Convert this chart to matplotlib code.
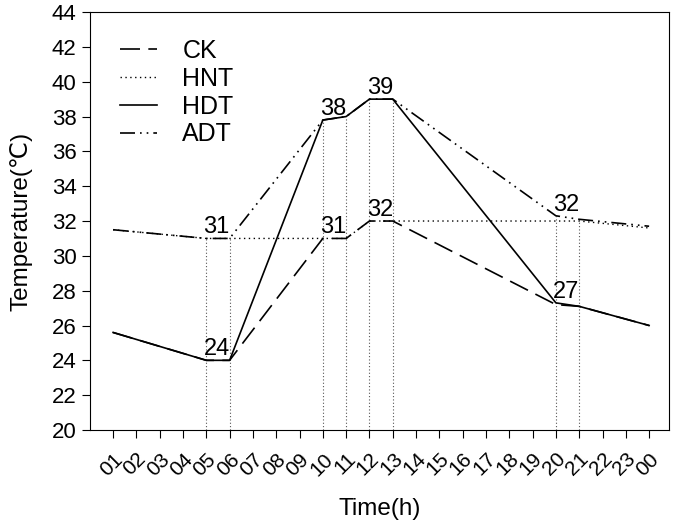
import matplotlib

matplotlib.use("Agg", force=True)

import matplotlib.pyplot as plt
import numpy as np

plt.rcParams["font.family"] = ["Liberation Sans", "DejaVu Sans"]

# hour positions (00 = 24) and tick labels
tick_labels = ["01", "02", "03", "04", "05", "06", "07", "08", "09", "10", "11", "12",
               "13", "14", "15", "16", "17", "18", "19", "20", "21", "22", "23", "00"]
hours = [1, 5, 6, 10, 11, 12, 13, 20, 21, 24]

ck = [25.6, 24.0, 24.0, 31.0, 31.0, 32.0, 32.0, 27.2, 27.1, 26.0]
hnt = [31.5, 31.0, 31.0, 31.0, 31.0, 32.0, 32.0, 32.0, 32.0, 31.6]
hdt = [25.6, 24.0, 24.0, 37.8, 38.0, 39.0, 39.0, 27.3, 27.1, 26.0]
adt = [31.5, 31.0, 31.0, 37.8, 38.0, 39.0, 39.0, 32.3, 32.1, 31.7]

# hours with vertical guide lines
guide_hours = [5, 6, 10, 11, 12, 13, 20, 21]

# value labels
label_hours = [5, 5, 10, 10, 12, 12, 20, 20]
label_values = [31.0, 24.0, 37.8, 31.0, 32.0, 39.0, 32.3, 27.3]
label_texts = ["31", "24", "38", "31", "32", "39", "32", "27"]

fig = plt.figure(figsize=(6.75, 5.25), dpi=100)
ax = fig.add_axes([0.133, 0.181, 0.858, 0.796])

# vertical dotted guides up to the highest series at that hour
all_series = np.array([ck, hnt, hdt, adt])
for h in guide_hours:
    top = all_series[:, hours.index(h)].max()
    ax.vlines(h, 20, top, colors="#555555", linestyles=(0, (1, 2)), linewidth=0.8, zorder=1)

lw = 1.2
ax.plot(hours, ck, color="black", lw=lw, dashes=(12, 5), label="CK", zorder=3)
ax.plot(hours, hnt, color="black", lw=1.0, dashes=(1, 2.5), label="HNT", zorder=3)
ax.plot(hours, hdt, color="black", lw=lw, label="HDT", zorder=3)
ax.plot(hours, adt, color="black", lw=lw, dashes=(9, 3, 1, 3, 1, 3), label="ADT", zorder=3)

for h, v, t in zip(label_hours, label_values, label_texts):
    ax.annotate(t, (h, v), xytext=(-2, 0), textcoords="offset points",
                ha="left", va="bottom", fontsize=17)

ax.set_xlim(0, 24.85)
ax.set_ylim(20, 44)
ax.set_xticks(range(1, 25))
ax.set_xticklabels(tick_labels, rotation=45, ha="right", rotation_mode="anchor", fontsize=15)
ax.set_yticks(range(20, 45, 2))
ax.tick_params(axis="y", labelsize=16, direction="out", length=6)
ax.tick_params(axis="x", direction="out", length=6, pad=8)
ax.set_xlabel("Time(h)", fontsize=17.5, labelpad=13)
ax.set_ylabel("Temperature(℃)", fontsize=17.5, labelpad=14)

ax.legend(loc="upper left", frameon=False, fontsize=18, handlelength=1.5,
          handletextpad=1.0, labelspacing=0.15, borderpad=0, borderaxespad=0,
          bbox_to_anchor=(0.052, 0.935))

fig.savefig("out.png", dpi=100)
plt.close(fig)
